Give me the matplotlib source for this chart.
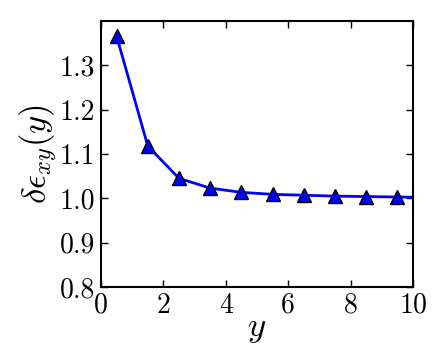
import numpy as np
import matplotlib
matplotlib.use('Agg')
import matplotlib.pyplot as plt

# data
y_pos = [0.5, 1.5, 2.5, 3.5, 4.5, 5.5, 6.5, 7.5, 8.5, 9.5, 10.5]
d_eps = [1.366, 1.118, 1.045, 1.023, 1.0135, 1.009, 1.007, 1.005, 1.004, 1.003, 1.002]

plt.rcParams['font.family'] = 'serif'
plt.rcParams['font.serif'] = ['cmr10']
plt.rcParams['mathtext.fontset'] = 'cm'
plt.rcParams['axes.formatter.use_mathtext'] = True

fig = plt.figure(figsize=(4.36, 3.55), dpi=100)
ax = fig.add_axes([101/436, 1 - 287/355, 312/436, 266/355])

ax.plot(y_pos, d_eps, '-', color='blue', lw=2, marker='^', markersize=10,
        markerfacecolor='blue', markeredgecolor='black', markeredgewidth=1)

ax.set_xlim(0, 10)
ax.set_ylim(0.8, 1.4)
ax.set_xticks([0, 2, 4, 6, 8, 10])
ax.set_xticklabels(['0', '2', '4', '6', '8', '10'])
ax.set_yticks([0.8, 0.9, 1.0, 1.1, 1.2, 1.3])
ax.set_yticklabels(['0.8', '0.9', '1.0', '1.1', '1.2', '1.3'])

ax.tick_params(direction='in', top=True, right=True, length=5, width=1,
               labelsize=20, pad=4)
for s in ax.spines.values():
    s.set_linewidth(1.5)

ax.set_xlabel(r'$y$', fontsize=25, labelpad=-4)
ax.set_ylabel(r'$\delta\epsilon_{xy}(y)$', fontsize=25, labelpad=0)

fig.savefig('out.png', dpi=100)
